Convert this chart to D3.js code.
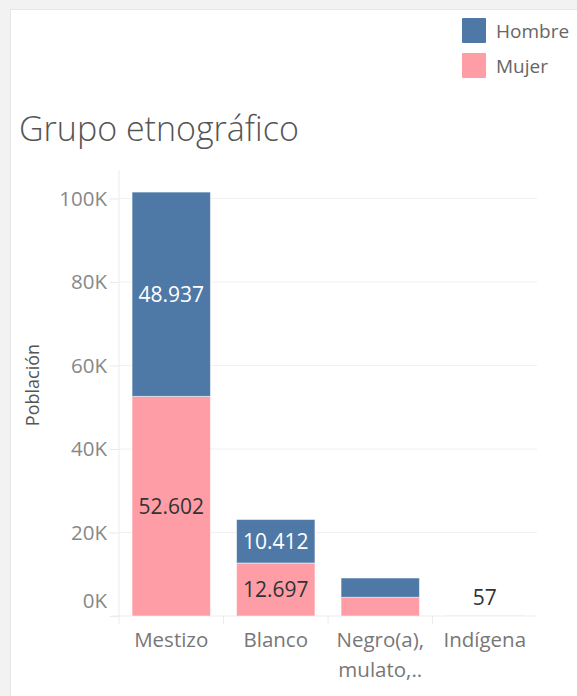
<!DOCTYPE html>
<html><head><meta charset="utf-8">
<script src="https://cdn.jsdelivr.net/npm/d3@7"></script>
<style>
html,body{margin:0;padding:0;background:#f2f2f2;}
svg{display:block;}
text{font-family:"Open Sans","Noto Sans",sans-serif;}
</style></head>
<body>
<svg id="c" width="577" height="696"></svg>
<script>
const categories = ["Mestizo", "Blanco", "Negro(a), mulato,..", "Indígena"];
const hombre = [48937, 10412, 4620, 0];
const mujer = [52602, 12697, 4480, 57];
const hombreLabels = ["48.937", "10.412", "", ""];
const mujerLabels = ["52.602", "12.697", "", "57"];
const yTicks = [0, 20000, 40000, 60000, 80000, 100000];
const yTickLabels = ["0K", "20K", "40K", "60K", "80K", "100K"];
const seriesNames = ["Hombre", "Mujer"];
const colors = ["#4e79a7", "#ff9da7"];

(function(){
const svg = d3.select("#c");
svg.append("rect").attr("x",0).attr("y",0).attr("width",577).attr("height",696).attr("fill","#f2f2f2");
svg.append("rect").attr("x",10).attr("y",9).attr("width",570).attr("height",690).attr("fill","#e6e6e6");
svg.append("rect").attr("x",11).attr("y",10).attr("width",570).attr("height",690).attr("fill","#ffffff");

const pL = 119, pR = 537, pT = 170, pB = 616;
const x = d3.scaleBand().domain(categories).range([pL, pR]).paddingInner(0.25).paddingOuter(0.125);
const y = d3.scaleLinear().domain([0, 105000]).range([pB, pB - 105*4.175]);

const g = svg.append("g");
g.selectAll(".grid").data(yTicks.slice(1)).join("line")
  .attr("x1", pL).attr("x2", pR)
  .attr("y1", d => y(d)).attr("y2", d => y(d))
  .attr("stroke", "#f0f0f0").attr("stroke-width", 1);
const yAxis = d3.axisLeft(y).tickValues(yTicks).tickFormat((d,i)=>yTickLabels[i]).tickSize(9).tickPadding(3);
const ya = g.append("g").attr("transform", `translate(${pL},0)`).call(yAxis);
ya.select(".domain").remove();
ya.selectAll(".tick line").attr("stroke", "#e8e8e8");
ya.selectAll(".tick text").attr("fill", "#888").style("font-size", "20.5px")
  .attr("dy", (d) => d === 0 ? "-0.4em" : "0.34em");
g.append("line").attr("x1", pL).attr("x2", pL).attr("y1", pT).attr("y2", pB + 8).attr("stroke", "#ececec");
g.append("line").attr("x1", pL - 8).attr("x2", pR).attr("y1", pB).attr("y2", pB).attr("stroke", "#ececec");

const stackData = categories.map((c, i) => ({cat: c, Hombre: hombre[i], Mujer: mujer[i]}));
const stack = d3.stack().keys(["Mujer", "Hombre"])(stackData);
const colorOf = {Hombre: colors[0], Mujer: colors[1]};
stack.forEach(layer => {
  g.selectAll(null).data(layer).join("rect")
    .attr("x", d => x(d.data.cat))
    .attr("width", x.bandwidth())
    .attr("y", d => y(d[1]))
    .attr("height", d => y(d[0]) - y(d[1]))
    .attr("fill", colorOf[layer.key])
    .attr("stroke", "rgba(255,255,255,0.5)").attr("stroke-width", 1);
});
stack.forEach(layer => {
  const labs = layer.key === "Hombre" ? hombreLabels : mujerLabels;
  g.selectAll(null).data(layer).join("text")
    .filter((d, i) => labs[i] !== "")
    .attr("x", d => x(d.data.cat) + x.bandwidth() / 2)
    .attr("y", (d) => {
      const h = y(d[0]) - y(d[1]);
      return h < 22 ? y(d[1]) - 18 : (y(d[0]) + y(d[1])) / 2;
    })
    .attr("dy", "0.35em")
    .attr("text-anchor", "middle")
    .attr("fill", layer.key === "Hombre" ? "#ffffff" : "#333333")
    .style("font-size", "21px")
    .text((d) => labs[categories.indexOf(d.data.cat)]);
});

const bounds = categories.slice(1).map(c => x(c) - x.step() * x.paddingInner() / 2);
g.selectAll(".div").data(bounds).join("line")
  .attr("x1", d => d).attr("x2", d => d).attr("y1", pB).attr("y2", pB + 8).attr("stroke", "#ececec");

categories.forEach((c) => {
  const parts = c === "Negro(a), mulato,.." ? ["Negro(a),", "mulato,.."] : [c];
  const t = g.append("text").attr("text-anchor", "middle").attr("fill", "#777").style("font-size", "20.5px");
  parts.forEach((p, j) => {
    t.append("tspan").attr("x", x(c) + x.bandwidth() / 2).attr("y", 647 + j * 30).text(p);
  });
});

svg.append("text").attr("transform", "translate(39,385) rotate(-90)").attr("text-anchor", "middle")
  .attr("fill", "#555").style("font-size", "18px").text("Población");

svg.append("text").attr("x", 19).attr("y", 141).attr("fill", "#555").style("font-size", "34px").style("font-weight", 300)
  .text("Grupo etnográfico");

seriesNames.forEach((s, i) => {
  svg.append("rect").attr("x", 462).attr("y", 18 + i * 35).attr("width", 24).attr("height", 25).attr("fill", colors[i]).attr("rx", 1);
  svg.append("text").attr("x", 496).attr("y", 31 + i * 35).attr("dy", "0.35em").attr("fill", "#666").style("font-size", "19px").text(s);
});
})();
</script>
</body></html>
